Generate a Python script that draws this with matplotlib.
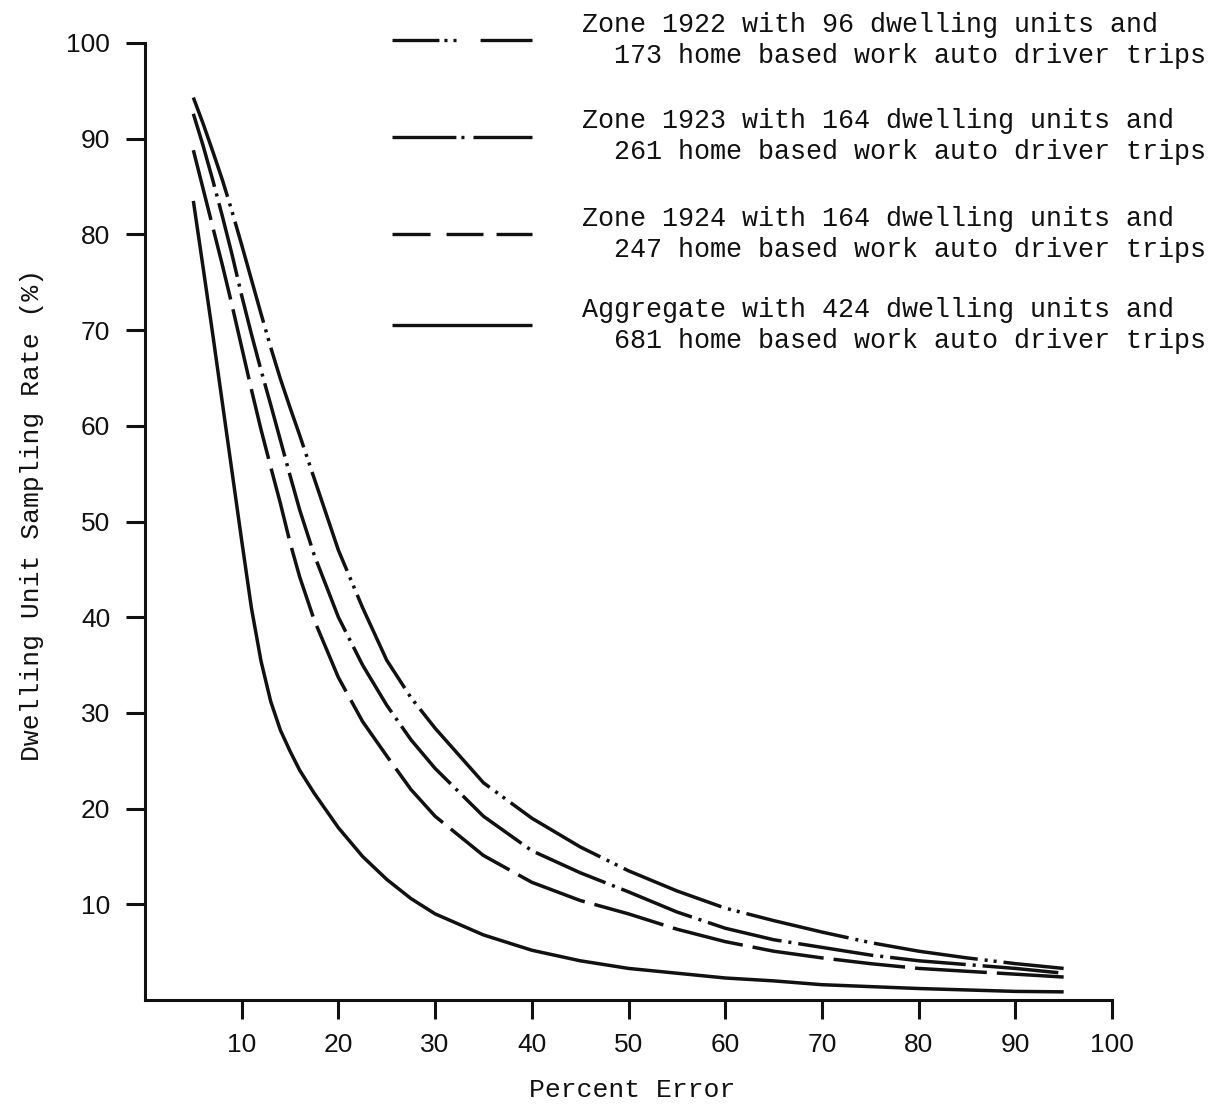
"""
Dwelling unit sampling rate vs percent error, redrawn from the scanned figure
"""

import matplotlib
matplotlib.use('Agg')
import matplotlib.pyplot as plt

percent_error = [5, 6, 7, 8, 9, 10, 11, 12, 13, 14, 15, 16, 17.5, 20, 22.5, 25,
                 27.5, 30, 35, 40, 45, 50, 55, 60, 65, 70, 75, 80, 85, 90, 95]

# Dwelling unit sampling rate (%) for each zone
zone_1922 = [94.3, 91.6, 88.7, 85.7, 82.4, 78.9, 75.3, 71.7, 68.2, 64.9, 61.9,
             59.0, 54.5, 47.0, 41.0, 35.5, 31.6, 28.4, 22.7, 19.0, 16.0, 13.5,
             11.4, 9.6, 8.3, 7.1, 6.0, 5.1, 4.4, 3.8, 3.3]
zone_1923 = [92.6, 89.3, 85.7, 81.9, 77.9, 73.6, 69.6, 65.8, 62.2, 58.5, 54.8,
             51.2, 46.5, 40.0, 35.0, 30.8, 27.2, 24.2, 19.2, 15.6, 13.3, 11.3,
             9.2, 7.5, 6.3, 5.5, 4.7, 4.1, 3.7, 3.3, 2.8]
zone_1924 = [88.8, 84.8, 80.8, 76.8, 72.6, 68.2, 63.8, 59.6, 55.7, 51.9, 47.8,
             44.2, 39.7, 33.7, 29.1, 25.5, 22.0, 19.2, 15.1, 12.3, 10.4, 9.0,
             7.4, 6.1, 5.1, 4.4, 3.8, 3.3, 3.0, 2.7, 2.4]
aggregate = [83.5, 76.6, 69.6, 62.4, 55.2, 48.0, 41.0, 35.4, 31.2, 28.2, 26.0,
             24.0, 21.6, 18.0, 15.0, 12.6, 10.6, 9.0, 6.8, 5.2, 4.1, 3.3,
             2.8, 2.3, 2.0, 1.6, 1.4, 1.2, 1.05, 0.9, 0.85]

series = [zone_1922, zone_1923, zone_1924, aggregate]

labels = [
    'Zone 1922 with 96 dwelling units and\n  173 home based work auto driver trips',
    'Zone 1923 with 164 dwelling units and\n  261 home based work auto driver trips',
    'Zone 1924 with 164 dwelling units and\n  247 home based work auto driver trips',
    'Aggregate with 424 dwelling units and\n  681 home based work auto driver trips',
]

x_ticks = [10, 20, 30, 40, 50, 60, 70, 80, 90, 100]
y_ticks = [10, 20, 30, 40, 50, 60, 70, 80, 90, 100]

# dash patterns in points (curve / legend sample); None = solid
CURVE_DASHES = [
    (0, (75.6, 5.0, 2.2, 4.3, 2.2, 5.0)),
    (0, (54.7, 5.0, 2.2, 5.0)),
    (0, (51.8, 7.2)),
    None,
]
KEY_DASHES = [
    (0, (33.8, 3.6, 2.2, 4.3, 2.2, 17.3, 144, 7)),
    (0, (46.0, 3.6, 2.2, 6.5, 144, 7)),
    (0, (27.4, 11.5, 26.6, 9.4, 144, 7)),
    None,
]

INK = '#111111'
MONO = 'Liberation Mono'

plt.rcParams['font.family'] = ['Liberation Sans', 'DejaVu Sans']
plt.rcParams['lines.scale_dashes'] = False

fig = plt.figure(figsize=(12.17, 11.07), dpi=100)
fig.patch.set_facecolor('white')
ax = fig.add_axes([145 / 1217, 107 / 1107, 967 / 1217, 957 / 1107])

for values, dash in zip(series, CURVE_DASHES):
    ls = '-' if dash is None else dash
    ax.plot(percent_error, values, color=INK, linewidth=2.5, linestyle=ls,
            solid_capstyle='butt', solid_joinstyle='round')

ax.set_xlim(0, 100)
ax.set_ylim(0, 100)
ax.set_xticks(x_ticks)
ax.set_yticks(y_ticks)

for side in ['top', 'right']:
    ax.spines[side].set_visible(False)
for side in ['left', 'bottom']:
    ax.spines[side].set_linewidth(2.2)
    ax.spines[side].set_color(INK)

ax.tick_params(axis='both', direction='out', length=14, width=2.2,
               colors=INK, labelsize=19)
ax.tick_params(axis='x', pad=10)
ax.tick_params(axis='y', pad=11)

ax.set_xlabel('Percent Error', fontsize=19, family=MONO, color=INK)
ax.xaxis.set_label_coords(0.504, -0.082)
ax.set_ylabel('Dwelling Unit Sampling Rate (%)', fontsize=19, family=MONO,
              color=INK)
ax.yaxis.set_label_coords(-0.104, 0.507)

# Hand-placed key, top right, like the original
key_x0, key_x1, text_x = 0.2554, 0.4002, 0.4519
key_y = [1.003, 0.902, 0.800, 0.705]
for label, dash, y in zip(labels, KEY_DASHES, key_y):
    ls = '-' if dash is None else dash
    ax.plot([key_x0, key_x1], [y, y], transform=ax.transAxes, color=INK,
            linewidth=2.4, linestyle=ls, solid_capstyle='butt', clip_on=False)
    ax.text(text_x, y, label, transform=ax.transAxes, ha='left', va='center',
            fontsize=19.3, family=MONO, color=INK, linespacing=1.25,
            multialignment='left')

fig.savefig('out.png', dpi=100, facecolor='white')
plt.close(fig)
